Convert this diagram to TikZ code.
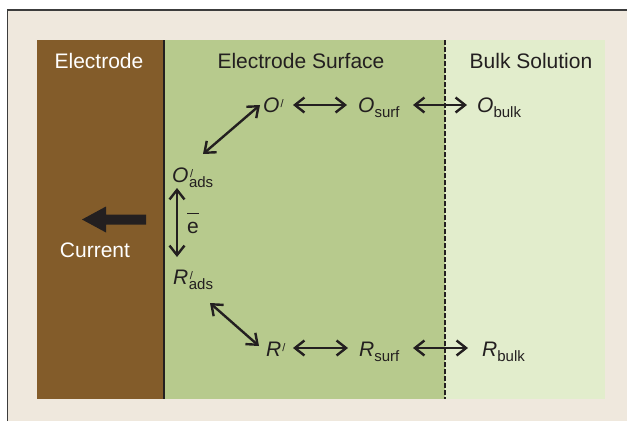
\documentclass[tikz,border=0pt]{standalone}
\usepackage{fontspec}
\setmainfont{Liberation Sans}
\usetikzlibrary{arrows.meta}
\definecolor{bgbeige}{RGB}{239,232,221}
\definecolor{brownel}{RGB}{131,92,42}
\definecolor{midgreen}{RGB}{183,202,141}
\definecolor{lightgreen}{RGB}{226,237,204}
\definecolor{ink}{RGB}{35,31,32}
\definecolor{framec}{RGB}{60,60,60}
\newcommand\mypr{\kern1pt\raisebox{5pt}{\fontsize{11}{11}\selectfont /}}
\newcommand\mysub[1]{\raisebox{-5pt}{\fontsize{15}{15}\selectfont #1}}
\newcommand\mysubpr[1]{\rlap{\kern1pt\raisebox{5pt}{\fontsize{11}{11}\selectfont /}}\raisebox{-5pt}{\fontsize{15}{15}\selectfont #1}}
\tikzset{
  lbl/.style={inner sep=0pt, anchor=base west, text=ink, font=\fontsize{21}{25}\selectfont},
  ttl/.style={inner sep=0pt, anchor=base, font=\fontsize{21}{25}\selectfont},
  dbl/.style={draw=ink, line width=2.4pt, {Straight Barb[length=9.5pt,width=15pt]}-{Straight Barb[length=9.5pt,width=15pt]}},
}
\begin{document}
\begin{tikzpicture}[x=1pt,y=-1pt]
\useasboundingbox (0,0) rectangle (627,421);
\fill[white] (0,0) rectangle (627,421);
\fill[bgbeige] (7.5,10) rectangle (627,421);
\draw[framec, line width=1.5pt] (7.5,421) -- (7.5,10) -- (627,10);
% panels
\fill[brownel] (37,40) rectangle (164,399);
\fill[midgreen] (164,40) rectangle (445,399);
\fill[lightgreen] (445,40) rectangle (605,399);
\draw[ink, line width=2pt] (164,40) -- (164,399);
\draw[ink, line width=2.4pt, dash pattern=on 4.5pt off 2.5pt] (445,40) -- (445,399);
% titles
\node[ttl, text=white] (tel) at (99,68) {Electrode};
\node[ttl, text=ink] (tsurf) at (301,68) {Electrode Surface};
\node[ttl, text=ink] (tbulk) at (531,68) {Bulk Solution};
% current arrow
\fill[ink] (146,214.5) -- (106,214.5) -- (106,206.5) -- (82,219.5) -- (106,232.5) -- (106,224.5) -- (146,224.5) -- cycle;
\node[ttl, text=white] (cur) at (95,257) {Current};
% species
\node[lbl] (Op) at (263,112) {\textit{O}\mypr};
\node[lbl] (Os) at (358,112) {\textit{O}\mysub{surf}};
\node[lbl] (Ob) at (477,112) {\textit{O}\mysub{bulk}};
\node[lbl] (Oa) at (172,182) {\textit{O}\kern0.5pt\mysubpr{ads}};
\node[lbl] (Ra) at (173,284) {\textit{R}\kern0.5pt\mysubpr{ads}};
\node[lbl] (Rp) at (266,356) {\textit{R}\mypr};
\node[lbl] (Rs) at (359,356) {\textit{R}\mysub{surf}};
\node[lbl] (Rb) at (482,356) {\textit{R}\mysub{bulk}};
\node[lbl] (eb) at (187,233) {\rlap{\raisebox{19pt}{\rule{12pt}{1.2pt}}}e};
% connectors
\draw[dbl] ([shift={(30,-7)}]Op.base west) -- ([shift={(-11,-7)}]Os.base west);
\draw[dbl] ([shift={(55,-7)}]Os.base west) -- ([shift={(-10,-7)}]Ob.base west);
\draw[dbl] ([shift={(-3,-7)}]Op.base west) -- ([shift={(31,-28)}]Oa.base west);
\draw[dbl] ([shift={(5,6)}]Oa.base west) -- ([shift={(4,-27)}]Ra.base west);
\draw[dbl] ([shift={(37,19)}]Ra.base west) -- ([shift={(-7,-10)}]Rp.base west);
\draw[dbl] ([shift={(27,-8)}]Rp.base west) -- ([shift={(-11,-8)}]Rs.base west);
\draw[dbl] ([shift={(54,-8)}]Rs.base west) -- ([shift={(-14,-8)}]Rb.base west);
\end{tikzpicture}
\end{document}
